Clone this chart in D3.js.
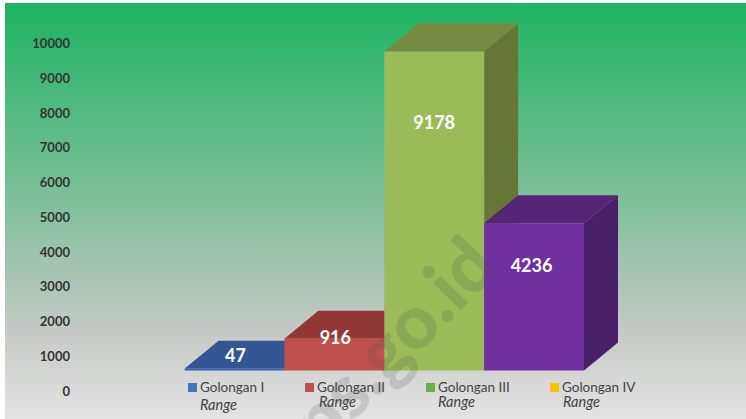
<!DOCTYPE html>
<html>
<head>
<meta charset="utf-8">
<script src="https://d3js.org/d3.v7.min.js"></script>
<style>
html, body { margin: 0; padding: 0; background: #fff; }
svg { display: block; font-family: Lato, "Open Sans", sans-serif; }
</style>
</head>
<body>
<svg id="chart" width="746" height="419"></svg>
<script>
const categories = ["Golongan I", "Golongan II", "Golongan III", "Golongan IV"];
const values = [47, 916, 9178, 4236];
const tickValues = [0, 1000, 2000, 3000, 4000, 5000, 6000, 7000, 8000, 9000, 10000];
const legendNames = ["Golongan I", "Golongan II", "Golongan III", "Golongan IV"];
const legendSub = ["Range", "Range", "Range", "Range"];

const frontColors = ["#3a62a8", "#c0504d", "#9bbb59", "#7030a0"];
const topColors = ["#335593", "#913836", "#768a42", "#562577"];
const sideColors = ["#2c4a80", "#7d2f2d", "#657637", "#481f68"];
const legendColors = ["#4472c4", "#c0504d", "#70ad47", "#ffc000"];

const svg = d3.select("#chart");
const defs = svg.append("defs");

const bg = defs.append("linearGradient")
    .attr("id", "bg")
    .attr("x1", 0).attr("y1", 0).attr("x2", 0).attr("y2", 1);
bg.append("stop").attr("offset", "0%").attr("stop-color", "#1db45f");
bg.append("stop").attr("offset", "50%").attr("stop-color", "#85c09f");
bg.append("stop").attr("offset", "79%").attr("stop-color", "#c6c9c6");
bg.append("stop").attr("offset", "100%").attr("stop-color", "#e3e3e3");

svg.append("rect")
    .attr("x", 5).attr("y", 3)
    .attr("width", 741).attr("height", 416)
    .attr("fill", "url(#bg)");

const x = d3.scaleBand().domain(categories).range([184.5, 584]);
const y = d3.scaleLinear().domain([0, 10000]).range([370.5, 23]);

const depthX = 34;
const depthY = 28;
// hand placed value labels, relative to the top edge and centre of each bar
const labelDrop = [-13, -1, 71, 42];
const labelShift = [1, 1, 0, -2.5];

// axis labels sit lower than the bars, on the floor of the 3D box
const axis = d3.axisLeft(y).tickValues(tickValues).tickSize(0).tickPadding(0).tickFormat(d3.format("d"));
const axisG = svg.append("g")
    .attr("transform", "translate(70,20.5)")
    .call(axis);
axisG.select(".domain").remove();
axisG.selectAll("text")
    .attr("font-family", "Lato, sans-serif")
    .attr("font-size", 13)
    .attr("font-weight", 700)
    .attr("fill", "#333");

const bars = svg.selectAll(".bar")
    .data(categories)
    .enter()
    .append("g")
    .attr("class", "bar");

bars.append("path")
    .attr("fill", (d, i) => sideColors[i])
    .attr("d", (d, i) => {
        const x1 = x(d) + x.bandwidth();
        const t = y(values[i]);
        return `M${x1},${y(0)}L${x1 + depthX},${y(0) - depthY}L${x1 + depthX},${t - depthY}L${x1},${t}Z`;
    });

bars.append("path")
    .attr("fill", (d, i) => topColors[i])
    .attr("d", (d, i) => {
        const x0 = x(d);
        const x1 = x0 + x.bandwidth();
        const t = y(values[i]);
        return `M${x0},${t}L${x0 + depthX},${t - depthY}L${x1 + depthX},${t - depthY}L${x1},${t}Z`;
    });

bars.append("rect")
    .attr("x", d => x(d))
    .attr("y", (d, i) => y(values[i]))
    .attr("width", x.bandwidth())
    .attr("height", (d, i) => y(0) - y(values[i]))
    .attr("fill", (d, i) => frontColors[i]);

// watermark runs over the bars
svg.append("text")
    .attr("transform", "translate(293,484) rotate(-46)")
    .attr("font-family", "Lato, sans-serif")
    .attr("font-size", 75)
    .attr("font-weight", 900)
    .attr("fill", "#4a4a4a")
    .attr("fill-opacity", 0.17)
    .text("bps.go.id");

svg.selectAll(".value")
    .data(values)
    .enter()
    .append("text")
    .attr("class", "value")
    .attr("x", (d, i) => x(categories[i]) + x.bandwidth() / 2 + labelShift[i])
    .attr("y", (d, i) => y(d) + labelDrop[i])
    .attr("dy", "0.35em")
    .attr("text-anchor", "middle")
    .attr("font-size", 18)
    .attr("font-weight", 700)
    .attr("fill", "#fff")
    .text(d => d);

// legend entries are unevenly spaced in the original
const legendLeft = [188, 305, 426, 550];
const subLeft = [12, 14, 12, 13];
const subBase = [410, 407, 407, 407];
const legend = svg.selectAll(".legend")
    .data(legendNames)
    .enter()
    .append("g")
    .attr("class", "legend")
    .attr("transform", (d, i) => `translate(${legendLeft[i]},0)`);

legend.append("rect")
    .attr("y", 383)
    .attr("width", 9)
    .attr("height", 9)
    .attr("fill", (d, i) => legendColors[i]);

legend.append("text")
    .attr("x", 12)
    .attr("y", 392)
    .attr("font-size", 13.5)
    .attr("fill", "#444")
    .text(d => d);

legend.append("text")
    .attr("x", (d, i) => subLeft[i])
    .attr("y", (d, i) => subBase[i])
    .attr("font-size", 14.5)
    .attr("font-style", "italic")
    .attr("fill", "#444")
    .text((d, i) => legendSub[i]);
</script>
</body>
</html>
